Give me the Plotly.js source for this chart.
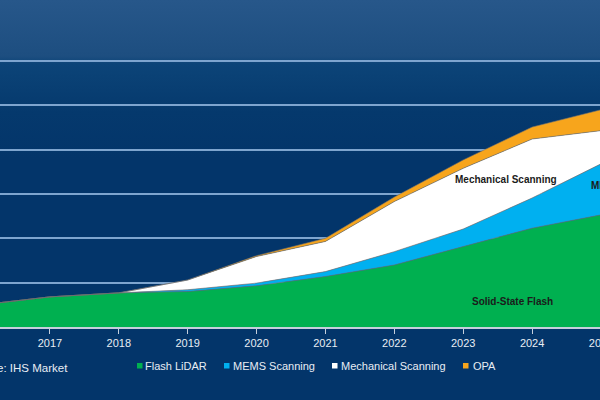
<!DOCTYPE html>
<html>
<head>
<meta charset="utf-8">
<script src="https://cdn.plot.ly/plotly-3.0.1.min.js"></script>
<style>
  html, body { margin: 0; padding: 0; width: 600px; height: 400px; overflow: hidden; }
  body {
    background: linear-gradient(to bottom, #27578a 0%, #1d4e80 14%, #0c4478 16%, #05396d 28%, #03356a 40%, #03356a 100%);
    position: relative;
  }
  #chart { position: absolute; left: -60px; top: 0; width: 740px; height: 400px; }
</style>
</head>
<body>
<div id="chart"></div>
<script>
// ---- data ----
var years = [2016, 2017, 2018, 2019, 2020, 2021, 2022, 2023, 2024, 2025];
var flashLidar = [0.50, 0.68, 0.77, 0.80, 0.93, 1.14, 1.40, 1.81, 2.23, 2.53];
var memsScanning = [0, 0, 0, 0.04, 0.06, 0.11, 0.30, 0.40, 0.68, 1.15];
var mechanicalScanning = [0, 0, 0, 0.22, 0.60, 0.68, 1.13, 1.37, 1.33, 0.75];
var opa = [0, 0, 0, 0, 0.02, 0.07, 0.10, 0.19, 0.27, 0.47];
var seriesNames = ["Flash LiDAR", "MEMS Scanning", "Mechanical Scanning", "OPA"];
var tickYears = [2017, 2018, 2019, 2020, 2021, 2022, 2023, 2024, 2025];
var tickLabels = ["2017", "2018", "2019", "2020", "2021", "2022", "2023", "2024", "2025"];
var sourceText = "Source: IHS Market";
var areaLabels = ["Mechanical Scanning", "MEMS Scanning", "Solid-State Flash"];

// ---- styling ----
var colors = ["#00b050", "#00b0f0", "#ffffff", "#f7a51c"];
var edge = "rgba(110,110,110,0.75)";
var font = "Liberation Sans, Arial, sans-serif";

// plot area geometry (in div pixels; div is shifted 60px left of the window)
var M = {l: 41, r: 79, t: 58, b: 73};
var plotW = 740 - M.l - M.r, plotH = 400 - M.t - M.b;
var yTop = plotH / 44.33;   // axis max so that 1 unit ~ 44.3 px
function sx(screenX) { return (screenX + 60 - M.l) / plotW; }
function sy(screenY) { return (400 - M.b - screenY) / plotH; }

var vals = [flashLidar, memsScanning, mechanicalScanning, opa];
var traces = vals.map(function (v, i) {
  return {
    type: "scatter", mode: "lines", x: years, y: v, name: seriesNames[i],
    stackgroup: "one", fillcolor: colors[i],
    line: {color: edge, width: 0.8, shape: "linear"},
    showlegend: false, hoverinfo: "skip"
  };
});

var annotations = [
  {text: "<b>" + areaLabels[0] + "</b>", x: sx(506), y: sy(179), xanchor: "center", yanchor: "middle"},
  {text: "<b>" + areaLabels[1] + "</b>", x: sx(589), y: sy(185), xanchor: "left", yanchor: "middle"},
  {text: "<b>" + areaLabels[2] + "</b>", x: sx(512), y: sy(301), xanchor: "center", yanchor: "middle"}
].map(function (a) {
  a.xref = "paper"; a.yref = "paper"; a.showarrow = false;
  a.font = {family: font, size: 10, color: "#1b1b1b"};
  return a;
});

annotations.push({
  text: sourceText, xref: "paper", yref: "paper", x: sx(70), y: sy(368),
  xanchor: "right", yanchor: "middle", showarrow: false,
  font: {family: font, size: 11.5, color: "#e8edf4"}
});

var legendSq = [137, 224, 332, 463];
var legendTx = [143, 231, 339, 471];
var shapes = [];
seriesNames.forEach(function (n, i) {
  shapes.push({type: "rect", xref: "paper", yref: "paper",
    x0: sx(legendSq[i]), x1: sx(legendSq[i] + 5.5), y0: sy(368.5), y1: sy(363),
    fillcolor: colors[i], line: {width: 0}});
  annotations.push({text: n, xref: "paper", yref: "paper", x: sx(legendTx[i]), y: sy(366),
    xanchor: "left", yanchor: "middle", showarrow: false,
    font: {family: font, size: 11, color: "#e8edf4"}});
});

var layout = {
  width: 740, height: 400,
  margin: M,
  paper_bgcolor: "rgba(0,0,0,0)", plot_bgcolor: "rgba(0,0,0,0)",
  showlegend: false,
  xaxis: {
    range: [2016, 2025], tickvals: tickYears, ticktext: tickLabels,
    showgrid: false, zeroline: false,
    showline: true, linecolor: "#c5cfdc", linewidth: 1.5,
    ticks: "outside", ticklen: 5, tickcolor: "#c5cfdc", tickwidth: 1,
    tickfont: {family: font, size: 11, color: "#e8edf4"}
  },
  yaxis: {
    range: [0, yTop], tick0: 0, dtick: 1, showticklabels: false, ticks: "",
    showgrid: true, gridcolor: "#7ea5cf", gridwidth: 2, zeroline: false, showline: false
  },
  annotations: annotations,
  shapes: shapes,
  font: {family: font}
};

Plotly.newPlot("chart", traces, layout, {staticPlot: true, displayModeBar: false});
</script>
</body>
</html>
